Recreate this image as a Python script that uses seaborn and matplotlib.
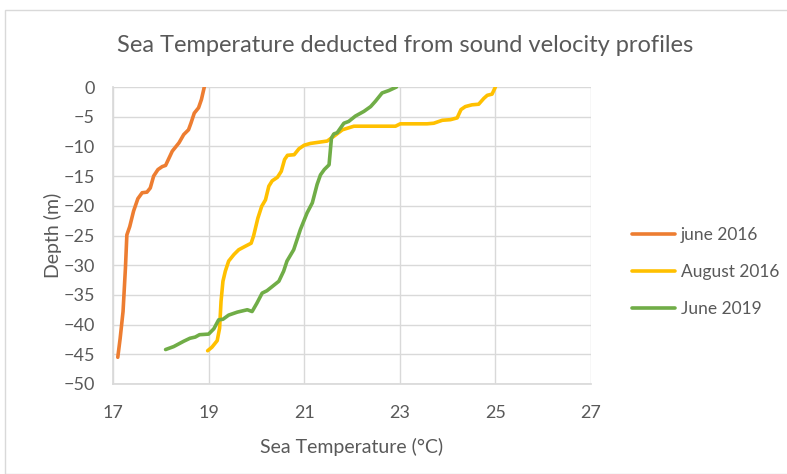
import matplotlib
matplotlib.use("Agg")
import matplotlib.pyplot as plt
import seaborn as sns
import pandas as pd
from matplotlib.patches import Rectangle

# --- data ---
june2016_temp = [17.10, 17.15, 17.21, 17.26, 17.29, 17.35, 17.43, 17.52, 17.61, 17.71, 17.78, 17.85,
                 17.94, 18.03, 18.10, 18.17, 18.24, 18.38, 18.48, 18.58, 18.63, 18.70, 18.79, 18.85, 18.91]
june2016_depth = [-45.5, -42.3, -37.8, -30.5, -24.9, -23.5, -20.9, -18.8, -17.8, -17.7, -17.0, -15.0,
                  -13.9, -13.4, -13.2, -12.0, -10.8, -9.4, -8.0, -7.2, -6.1, -4.4, -3.5, -2.1, 0.0]

aug2016_temp = [18.98, 19.07, 19.18, 19.23, 19.26, 19.30, 19.35, 19.42, 19.53, 19.63, 19.77, 19.89,
                19.94, 20.03, 20.11, 20.19, 20.26, 20.33, 20.44, 20.52, 20.59, 20.65, 20.79, 20.89,
                21.00, 21.13, 21.48, 21.62, 21.80, 22.04, 22.91, 23.01, 23.57, 23.71, 23.89, 24.06,
                24.20, 24.28, 24.37, 24.51, 24.65, 24.76, 24.83, 24.93, 25.00]
aug2016_depth = [-44.4, -43.8, -42.7, -40.6, -36.1, -32.7, -31.0, -29.3, -28.2, -27.4, -26.8, -26.3,
                 -25.1, -22.1, -20.1, -19.0, -16.7, -15.8, -15.2, -14.2, -12.2, -11.5, -11.4, -10.4,
                 -9.8, -9.5, -9.1, -8.3, -7.2, -6.6, -6.6, -6.2, -6.2, -6.1, -5.6, -5.5,
                 -5.2, -3.8, -3.3, -3.0, -2.9, -1.9, -1.4, -1.2, 0.0]

june2019_temp = [18.10, 18.27, 18.48, 18.61, 18.72, 18.81, 19.00, 19.11, 19.21, 19.30, 19.42, 19.60,
                 19.81, 19.91, 20.01, 20.12, 20.22, 20.33, 20.47, 20.57, 20.64, 20.78, 20.92, 21.06,
                 21.17, 21.27, 21.34, 21.42, 21.52, 21.57, 21.62, 21.69, 21.83, 21.93, 22.07, 22.25,
                 22.39, 22.49, 22.63, 22.77, 22.93]
june2019_depth = [-44.2, -43.7, -42.8, -42.3, -42.1, -41.7, -41.6, -40.7, -39.2, -39.1, -38.4, -37.9,
                  -37.5, -37.8, -36.4, -34.7, -34.3, -33.6, -32.7, -31.0, -29.3, -27.4, -24.0, -21.2,
                  -19.5, -16.4, -14.8, -13.9, -13.1, -8.6, -7.9, -7.7, -6.1, -5.8, -4.9, -4.1,
                  -3.3, -2.4, -1.0, -0.6, 0.0]

series_names = ["june 2016", "August 2016", "June 2019"]
series_colors = ["#ED7D31", "#FFC000", "#70AD47"]
x_ticks = [17, 19, 21, 23, 25, 27]
y_ticks = list(range(0, -55, -5))

frames = []
for name, t, d in zip(series_names,
                      [june2016_temp, aug2016_temp, june2019_temp],
                      [june2016_depth, aug2016_depth, june2019_depth]):
    frames.append(pd.DataFrame({"temp": t, "depth": d, "series": name}))
df = pd.concat(frames, ignore_index=True)

sns.set_theme(style="white")
plt.rcParams["font.family"] = ["Lato", "DejaVu Sans"]
text_color = "#595959"

fig = plt.figure(figsize=(7.87, 4.74), dpi=100)
fig.patches.append(Rectangle((5 / 787, 0), 1, 1 - 10 / 474, transform=fig.transFigure,
                             fill=False, edgecolor="#d9d9d9", linewidth=1))
ax = fig.add_axes([113 / 787, 1 - 384 / 474, (591 - 113) / 787, (384 - 87) / 474])

sns.lineplot(data=df, x="temp", y="depth", hue="series", hue_order=series_names,
             palette=series_colors, sort=False, estimator=None, units="series",
             linewidth=2.6, ax=ax, legend=True)

ax.set_xlim(17, 27)
ax.set_ylim(-50, 0)
ax.set_xticks(x_ticks)
ax.set_yticks(y_ticks)
ax.grid(True, color="#d9d9d9", linewidth=1)
ax.set_axisbelow(True)
for s in ["top", "right"]:
    ax.spines[s].set_visible(False)
ax.spines["left"].set_color("#d9d9d9")
ax.spines["bottom"].set_color("#d9d9d9")
ax.tick_params(axis="x", length=0, labelsize=13, labelcolor=text_color, pad=15)
ax.tick_params(axis="y", length=0, labelsize=13, labelcolor=text_color, pad=13)
ax.set_xlabel("Sea Temperature (°C)", fontsize=14, color=text_color, labelpad=12)
ax.set_ylabel("Depth (m)", fontsize=14, color=text_color, labelpad=1)
fig.text(405 / 787, 1 - 45 / 474, "Sea Temperature deducted from sound velocity profiles",
         ha="center", va="center", fontsize=17, color=text_color)

handles, labels = ax.get_legend_handles_labels()
ax.legend(handles, labels, loc="center left", bbox_to_anchor=(1.053, 0.377),
          frameon=False, fontsize=12.5, labelcolor=text_color, handlelength=2.5,
          handletextpad=0.3, labelspacing=1.2)

fig.savefig("out.png", dpi=100)
